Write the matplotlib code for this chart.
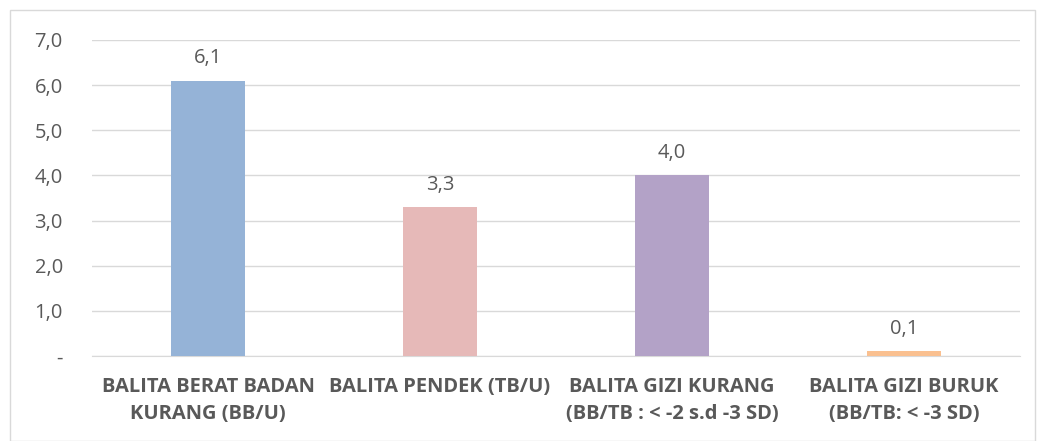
import matplotlib.pyplot as plt
from matplotlib.patches import Rectangle
from matplotlib.ticker import FuncFormatter

kategori = ['BALITA BERAT BADAN\nKURANG (BB/U)',
            'BALITA PENDEK (TB/U)',
            'BALITA GIZI KURANG\n(BB/TB : < -2 s.d -3 SD)',
            'BALITA GIZI BURUK\n(BB/TB: < -3 SD)']
nilai = [6.1, 3.3, 4.0, 0.1]
warna = ['#95B3D7', '#E6B9B8', '#B3A2C7', '#FAC090']

plt.rcParams['font.family'] = ['Open Sans', 'DejaVu Sans']
teks = '#595959'

fig = plt.figure(figsize=(10.43, 4.41), dpi=100)
ax = fig.add_axes([92 / 1043, 1 - 356 / 441, (1020 - 92) / 1043, (356 - 40) / 441])

x = range(len(kategori))
bars = ax.bar(x, nilai, width=0.315, color=warna, zorder=3)

for b, v in zip(bars, nilai):
    ax.text(b.get_x() + b.get_width() / 2, v + 0.27, f'{v:.1f}'.replace('.', ','),
            ha='center', va='bottom', fontsize=14.5, color=teks)

ax.set_xlim(-0.5, 3.5)
ax.set_ylim(0, 7)
ax.set_yticks(range(8))
ax.yaxis.set_major_formatter(FuncFormatter(
    lambda v, p: '-' if v == 0 else f'{v:.1f}'.replace('.', ',')))
ax.grid(axis='y', color='#D9D9D9', linewidth=1, zorder=0)
for s in ['top', 'right', 'left']:
    ax.spines[s].set_visible(False)
ax.spines['bottom'].set_color('#D9D9D9')
ax.tick_params(axis='both', length=0, labelsize=14.5, colors=teks)
ax.tick_params(axis='y', pad=21)
ax.set_xticks(list(x))
ax.set_xticklabels(kategori, fontweight='bold', fontsize=14.5, color=teks,
                   linespacing=1.45)
ax.tick_params(axis='x', pad=15)

fig.patches.append(Rectangle((10 / 1043, 0.0), 1025 / 1043, 1 - 10 / 441,
                             transform=fig.transFigure, fill=False,
                             edgecolor='#D9D9D9', linewidth=1))

plt.savefig('out.png', dpi=100)
